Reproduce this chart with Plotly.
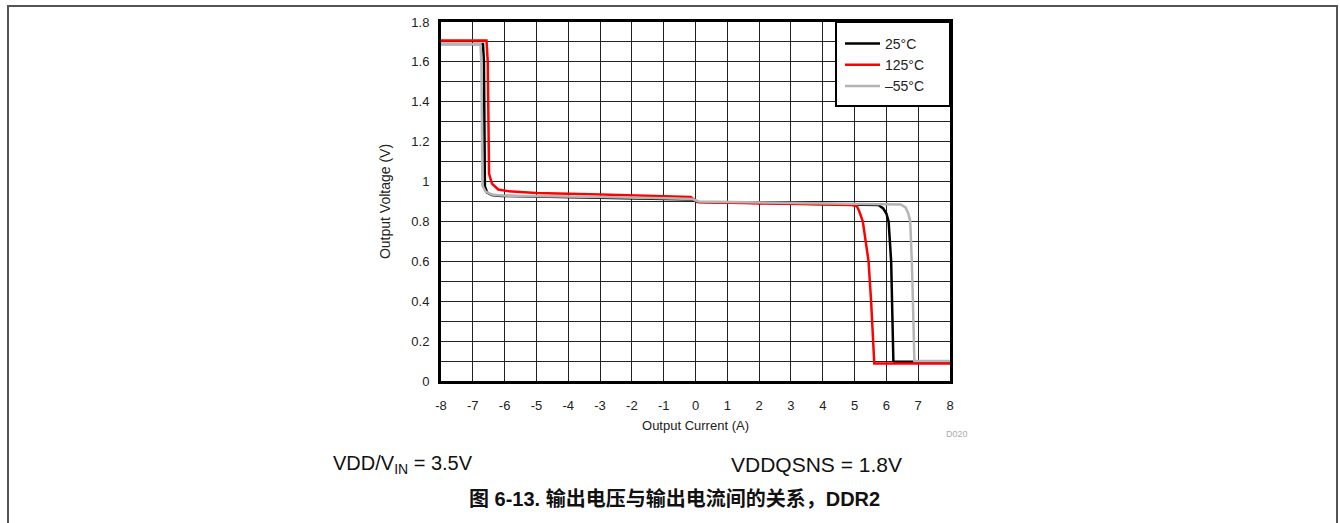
import plotly.graph_objects as go

# ---- data ----
x_25 = [-8, -6.68, -6.65, -6.62, -6.55, -6.4, -6.1, -5, -3, -1, -0.1, 0.1, 2, 4, 5.5, 5.75, 5.9, 6.0, 6.07, 6.15, 6.22, 6.25, 8]
y_25 = [1.69, 1.69, 1.6, 0.975, 0.945, 0.932, 0.928, 0.925, 0.92, 0.912, 0.91, 0.898, 0.892, 0.887, 0.884, 0.882, 0.865, 0.84, 0.8, 0.6, 0.1, 0.097, 0.097]

x_125 = [-8, -6.57, -6.53, -6.49, -6.4, -6.2, -5.9, -5, -3, -1, -0.15, 0.05, 2, 4, 4.9, 5.07, 5.15, 5.26, 5.36, 5.44, 5.52, 5.58, 5.62, 8]
y_125 = [1.707, 1.707, 1.6, 1.04, 0.99, 0.96, 0.952, 0.942, 0.935, 0.928, 0.922, 0.897, 0.89, 0.885, 0.882, 0.877, 0.85, 0.8, 0.7, 0.6, 0.4, 0.2, 0.088, 0.088]

x_m55 = [-8, -6.76, -6.73, -6.7, -6.6, -6.4, -6.1, -5, -3, -1, -0.1, 0.1, 2, 4, 6, 6.45, 6.6, 6.69, 6.75, 6.8, 6.85, 6.88, 8]
y_m55 = [1.689, 1.689, 1.6, 0.98, 0.95, 0.935, 0.93, 0.928, 0.922, 0.916, 0.912, 0.9, 0.895, 0.89, 0.887, 0.885, 0.87, 0.84, 0.8, 0.6, 0.3, 0.1, 0.1]

series_names = ["25°C", "125°C", "–55°C"]
series_colors = ["#000000", "#ff0000", "#b4b4b4"]

x_ticks = list(range(-8, 9))
x_ticktext = [str(v) for v in x_ticks]
y_ticks = [0, 0.2, 0.4, 0.6, 0.8, 1.0, 1.2, 1.4, 1.6, 1.8]
y_ticktext = ["0", "0.2", "0.4", "0.6", "0.8", "1", "1.2", "1.4", "1.6", "1.8"]

FONT = "Liberation Sans, Arial, sans-serif"

fig = go.Figure()
for xs, ys, nm, col in zip([x_25, x_125, x_m55], [y_25, y_125, y_m55], series_names, series_colors):
    fig.add_trace(go.Scatter(x=xs, y=ys, mode="lines", name=nm,
                             line=dict(color=col, width=2.5)))

# layout geometry: plot area 441..950 x 22..381
L, R, T, B = 441, 950, 22, 381
W, H = 1340, 523
pw, ph = R - L, B - T

def px(xp):
    return (xp - L) / pw

def py(yp):
    return (B - yp) / ph

fig.update_layout(
    width=W, height=H,
    margin=dict(l=L, r=W - R, t=T, b=H - B),
    paper_bgcolor="white", plot_bgcolor="white",
    font=dict(family=FONT, size=13, color="#222"),
    showlegend=True,
    legend=dict(x=px(840), y=py(28), xanchor="left", yanchor="top",
                bgcolor="rgba(0,0,0,0)", borderwidth=0,
                font=dict(size=14, color="#222"), itemwidth=35,
                tracegroupgap=0),
    xaxis=dict(range=[-8, 8], tickvals=x_ticks, ticktext=x_ticktext,
               showgrid=True, gridcolor="#222", gridwidth=1,
               showline=True, linecolor="black", linewidth=3, mirror=True,
               zeroline=False, ticks="", ticklabelstandoff=10,
               title=dict(text="Output Current (A)", standoff=10,
                          font=dict(size=13, color="#222"))),
    yaxis=dict(range=[0, 1.8], tickvals=y_ticks, ticktext=y_ticktext,
               showgrid=True, gridcolor="#222", gridwidth=1,
               minor=dict(dtick=0.1, tick0=0, showgrid=True, gridcolor="#222", gridwidth=1),
               showline=True, linecolor="black", linewidth=3, mirror=True,
               zeroline=False, ticks="", ticklabelstandoff=6,
               title=dict(text="Output Voltage (V)", standoff=18,
                          font=dict(size=14, color="#222"))),
)

# outer frame
fig.add_shape(type="rect", xref="paper", yref="paper",
              x0=px(8), x1=px(1337), y0=py(540), y1=py(6),
              line=dict(color="#555", width=2), fillcolor="rgba(0,0,0,0)", layer="below")

# legend box (opaque, covers the grid)
fig.add_shape(type="rect", xref="paper", yref="paper",
              x0=px(836), x1=px(950), y0=py(106), y1=py(22),
              line=dict(color="black", width=2), fillcolor="white", layer="above")

fig.add_annotation(xref="paper", yref="paper", x=px(970), y=py(434),
                   text="D020", showarrow=False, xanchor="right", yanchor="middle",
                   font=dict(size=9, color="#aaa"))
fig.add_annotation(xref="paper", yref="paper", x=px(331), y=py(464),
                   text="VDD/V<sub>IN</sub> = 3.5V", showarrow=False,
                   xanchor="left", yanchor="middle",
                   font=dict(size=20, color="#111"))
fig.add_annotation(xref="paper", yref="paper", x=px(729), y=py(464),
                   text="VDDQSNS = 1.8V", showarrow=False,
                   xanchor="left", yanchor="middle",
                   font=dict(size=21, color="#111"))
fig.add_annotation(xref="paper", yref="paper", x=px(674), y=py(499),
                   text="<b>图 6-13. 输出电压与输出电流间的关系，DDR2</b>", showarrow=False,
                   xanchor="center", yanchor="middle",
                   font=dict(size=20, color="#111",
                             family="Liberation Sans, Noto Sans CJK SC, sans-serif"))

fig.write_html("out.html")
